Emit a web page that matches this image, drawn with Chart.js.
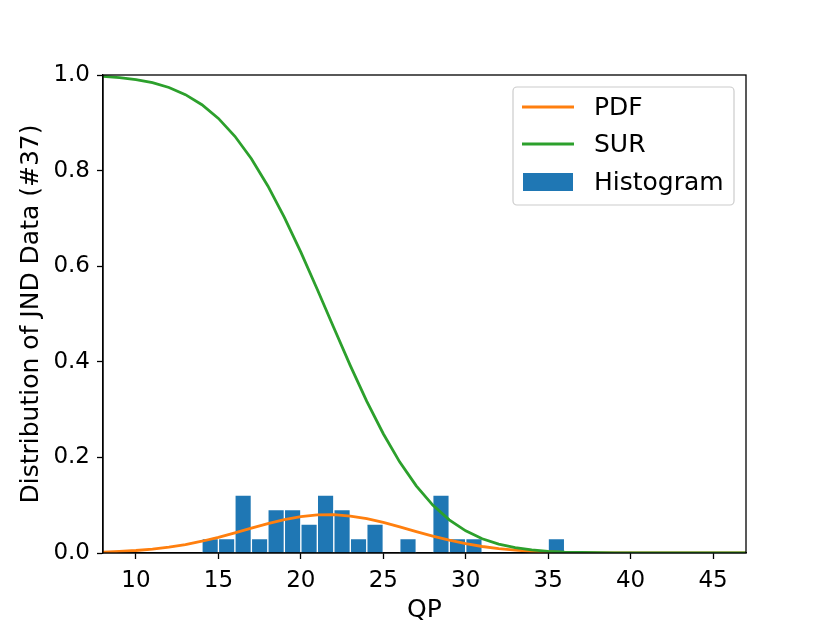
<!DOCTYPE html>
<html>
<head>
<meta charset="utf-8">
<script src="https://cdn.jsdelivr.net/npm/chart.js@4"></script>
<style>
html,body{margin:0;padding:0;background:#fff;}
#wrap{width:830px;height:623px;}
</style>
</head>
<body>
<div id="wrap"><canvas id="c" width="830" height="623"></canvas></div>
<script>
// ---- data ----
const qpGrid = [8,9,10,11,12,13,14,15,16,17,18,19,20,21,22,23,24,25,26,27,28,29,30,31,32,33,34,35,36,37,38,39,40,41,42,43,44,45,46,47];
const pdfValues = [0.0019,0.0032,0.0052,0.0081,0.0122,0.0177,0.0246,0.0329,0.0422,0.0519,0.0614,0.0697,0.0760,0.0796,0.0801,0.0773,0.0717,0.0639,0.0546,0.0449,0.0354,0.0268,0.0195,0.0136,0.0091,0.0059,0.0036,0.0022,0.0012,0.0007,0.0004,0.0002,0.0001,0,0,0,0,0,0,0];
const surValues = [0.9970,0.9945,0.9904,0.9839,0.9738,0.9589,0.9379,0.9092,0.8718,0.8248,0.7679,0.7023,0.6293,0.5513,0.4711,0.3920,0.3174,0.2495,0.1902,0.1405,0.1003,0.0693,0.0463,0.0298,0.0185,0.0111,0.0064,0.0036,0.0019,0.0010,0.0005,0.0002,0.0001,0,0,0,0,0,0,0];
const binCenters = [14.5,15.5,16.5,17.5,18.5,19.5,20.5,21.5,22.5,23.5,24.5,26.5,28.5,29.5,30.5,35.5];
const binDensity = [0.0303,0.0303,0.1212,0.0303,0.0909,0.0909,0.0606,0.1212,0.0909,0.0303,0.0606,0.0303,0.1212,0.0303,0.0303,0.0303];
const xTicks = [10,15,20,25,30,35,40,45];
const yTicks = [0.0,0.2,0.4,0.6,0.8,1.0];
const seriesLabels = ['PDF','SUR','Histogram'];
const xTitle = 'QP';
const yTitle = 'Distribution of JND Data (#37)';

const FONT = 'DejaVu Sans';
const TICK_FS = 23;
const LABEL_FS = 25;

const toXY = (xs, ys) => xs.map((x, i) => ({x: x, y: ys[i]}));

const framePlugin = {
  id: 'frame',
  afterDatasetsDraw(chart) {
    const {ctx, chartArea: a} = chart;
    ctx.save();
    ctx.strokeStyle = '#000';
    ctx.lineWidth = 1.3;
    ctx.strokeRect(a.left, a.top, a.right - a.left, a.bottom - a.top);
    ctx.restore();
  },
  afterDraw(chart) {
    const {ctx, chartArea: a} = chart;
    const ds = chart.data.datasets;
    const boxW = 221, boxH = 118;
    const bx = a.right - 12 - boxW, by = a.top + 12;
    ctx.save();
    ctx.beginPath();
    if (ctx.roundRect) ctx.roundRect(bx, by, boxW, boxH, 4); else ctx.rect(bx, by, boxW, boxH);
    ctx.fillStyle = 'rgba(255,255,255,0.8)';
    ctx.fill();
    ctx.strokeStyle = '#cccccc';
    ctx.lineWidth = 1.2;
    ctx.stroke();
    ctx.font = LABEL_FS + 'px "' + FONT + '"';
    ctx.textBaseline = 'middle';
    ctx.textAlign = 'left';
    const rows = [by + 20, by + 57, by + 95];
    ds.forEach((d, i) => {
      const y = rows[i];
      if (d.type === 'bar') {
        ctx.fillStyle = d.backgroundColor;
        ctx.fillRect(bx + 10, y - 9, 50, 18);
      } else {
        ctx.strokeStyle = d.borderColor;
        ctx.lineWidth = 2.8;
        ctx.beginPath();
        ctx.moveTo(bx + 9, y);
        ctx.lineTo(bx + 61, y);
        ctx.stroke();
      }
      ctx.fillStyle = '#000';
      ctx.fillText(d.label, bx + 81, y + 1);
    });
    ctx.restore();
  }
};

new Chart(document.getElementById('c'), {
  data: {
    datasets: [
      {type: 'line', label: seriesLabels[0], data: toXY(qpGrid, pdfValues), borderColor: '#ff7f0e', backgroundColor: '#ff7f0e', borderWidth: 2.8, pointRadius: 0, tension: 0, order: 2},
      {type: 'line', label: seriesLabels[1], data: toXY(qpGrid, surValues), borderColor: '#2ca02c', backgroundColor: '#2ca02c', borderWidth: 2.8, pointRadius: 0, tension: 0, order: 1},
      {type: 'bar', label: seriesLabels[2], data: toXY(binCenters, binDensity), backgroundColor: '#1f77b4', borderColor: '#ffffff', borderWidth: 1, borderSkipped: 'start', barPercentage: 1, categoryPercentage: 1, order: 3}
    ]
  },
  options: {
    responsive: false,
    animation: false,
    events: [],
    layout: {padding: {left: 0, top: 75, right: 84, bottom: 0}},
    plugins: {legend: {display: false}, tooltip: {enabled: false}},
    scales: {
      x: {
        type: 'linear', min: 8, max: 47, offset: false,
        afterFit(s) { s.height = 70; },
        afterBuildTicks(s) { s.ticks = xTicks.map(v => ({value: v})); },
        grid: {display: true, offset: false, drawOnChartArea: false, drawTicks: true, tickLength: 6, tickColor: '#000', tickWidth: 1.3},
        border: {display: true, color: '#000', width: 1.3},
        ticks: {color: '#000', padding: 8, maxRotation: 0, autoSkip: false, font: {family: FONT, size: TICK_FS}, callback: v => String(v)},
        title: {display: true, text: xTitle, color: '#000', font: {family: FONT, size: LABEL_FS, lineHeight: 1}, padding: {top: 0, bottom: 0}}
      },
      y: {
        type: 'linear', min: 0, max: 1,
        afterFit(s) { s.width = 103; },
        afterBuildTicks(s) { s.ticks = yTicks.map(v => ({value: v})); },
        grid: {display: true, offset: false, drawOnChartArea: false, drawTicks: true, tickLength: 6, tickColor: '#000', tickWidth: 1.3},
        border: {display: true, color: '#000', width: 1.3},
        ticks: {color: '#000', padding: 7, font: {family: FONT, size: TICK_FS}, callback: v => Number(v).toFixed(1)},
        title: {display: true, text: yTitle, color: '#000', font: {family: FONT, size: LABEL_FS, lineHeight: 1}, padding: {top: 19, bottom: 0}}
      }
    }
  },
  plugins: [framePlugin]
});
</script>
</body>
</html>
